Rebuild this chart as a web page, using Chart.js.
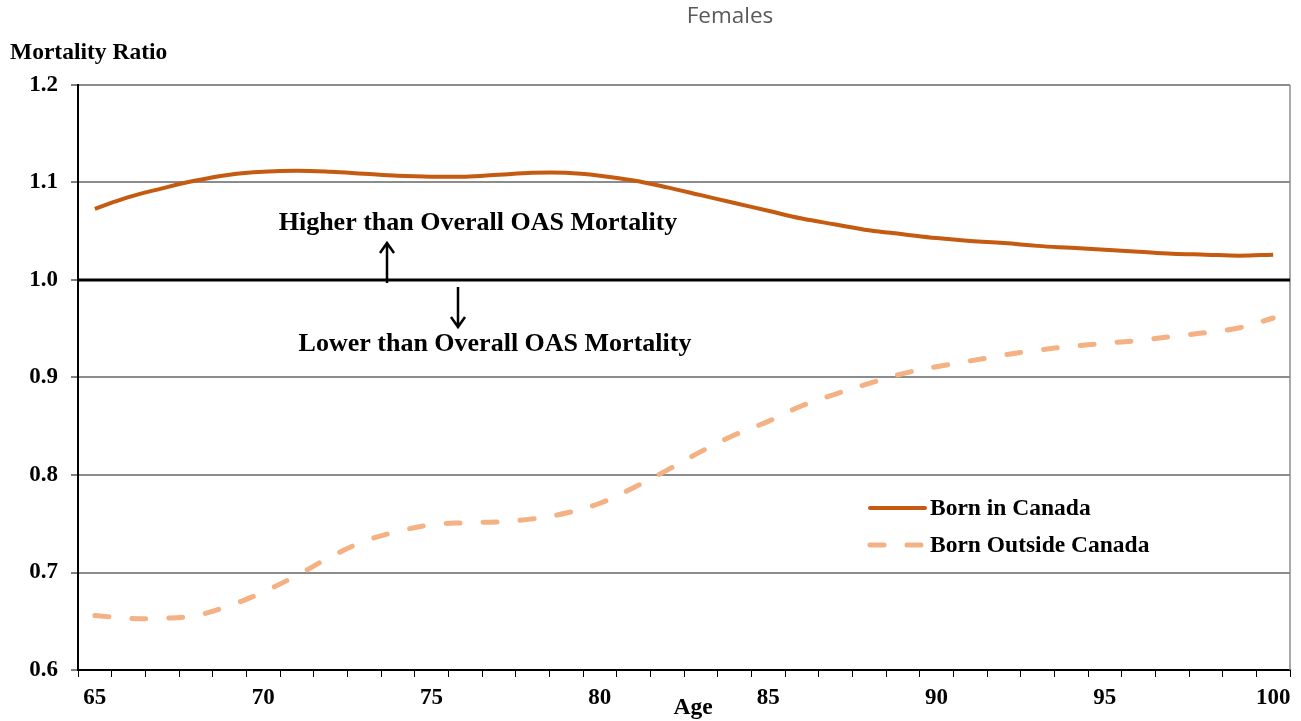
<!DOCTYPE html>
<html>
<head>
<meta charset="utf-8">
<script src="https://cdn.jsdelivr.net/npm/chart.js@4"></script>
<style>
  html, body { margin: 0; padding: 0; background: #fff; }
  #wrap { width: 1301px; height: 721px; position: relative; }
</style>
</head>
<body>
<div id="wrap"><canvas id="chart"></canvas></div>
<script>
// Ages 65..100
const ages = [65, 66, 67, 68, 69, 70, 71, 72, 73, 74, 75, 76, 77, 78, 79, 80, 81, 82,
              83, 84, 85, 86, 87, 88, 89, 90, 91, 92, 93, 94, 95, 96, 97, 98, 99, 100];

const bornInCanada = [1.073, 1.085, 1.094, 1.102, 1.108, 1.111, 1.112, 1.111, 1.109, 1.107,
                      1.106, 1.106, 1.108, 1.110, 1.110, 1.107, 1.102, 1.095, 1.087, 1.079,
                      1.071, 1.063, 1.057, 1.051, 1.047, 1.043, 1.040, 1.038, 1.035, 1.033,
                      1.031, 1.029, 1.027, 1.026, 1.025, 1.026];

const bornOutside = [0.656, 0.653, 0.653, 0.656, 0.666, 0.680, 0.697, 0.716, 0.732, 0.742,
                     0.749, 0.751, 0.752, 0.755, 0.761, 0.771, 0.787, 0.805, 0.824, 0.841,
                     0.855, 0.871, 0.883, 0.894, 0.904, 0.911, 0.917, 0.923, 0.928, 0.932,
                     0.935, 0.938, 0.942, 0.946, 0.951, 0.961];

const yTicks = [0.6, 0.7, 0.8, 0.9, 1.0, 1.1, 1.2];
const baseline = 1.0;

const serif = '"Liberation Serif", "Times New Roman", serif';

// title, axis titles, reference line, arrows, notes and legend
const extras = {
  id: 'extras',
  beforeDatasetsDraw(chart) {
    const { ctx, chartArea: a, scales: { y } } = chart;
    ctx.save();
    // right border
    ctx.strokeStyle = '#8c8c8c';
    ctx.lineWidth = 1.5;
    ctx.beginPath();
    ctx.moveTo(a.right, a.top);
    ctx.lineTo(a.right, a.bottom);
    ctx.stroke();
    // 1.0 reference line
    const yb = y.getPixelForValue(baseline);
    ctx.strokeStyle = '#000';
    ctx.lineWidth = 3;
    ctx.beginPath();
    ctx.moveTo(a.left, yb);
    ctx.lineTo(a.right, yb);
    ctx.stroke();
    ctx.restore();
  },
  afterDraw(chart) {
    const { ctx, scales: { y } } = chart;
    const yb = y.getPixelForValue(baseline);
    ctx.save();
    ctx.fillStyle = '#595959';
    ctx.font = '22.5px "Open Sans", sans-serif';
    ctx.textAlign = 'center';
    ctx.textBaseline = 'middle';
    ctx.fillText('Females', 730, 17);

    ctx.fillStyle = '#000';
    ctx.font = 'bold 23.5px ' + serif;
    ctx.textAlign = 'left';
    ctx.fillText('Mortality Ratio', 10, 53);
    ctx.textAlign = 'center';
    ctx.font = 'bold 23.5px ' + serif;
    ctx.fillText('Age', 693, 708);

    // notes
    ctx.font = 'bold 26px ' + serif;
    ctx.fillText('Higher than Overall OAS Mortality', 478, yb - 57);
    ctx.fillText('Lower than Overall OAS Mortality', 495, yb + 64);

    // arrows
    ctx.strokeStyle = '#000';
    ctx.lineWidth = 2.5;
    ctx.beginPath();
    ctx.moveTo(387, yb + 3); ctx.lineTo(387, yb - 36);
    ctx.moveTo(380, yb - 27); ctx.lineTo(387, yb - 37); ctx.lineTo(394, yb - 27);
    ctx.moveTo(458, yb + 7); ctx.lineTo(458, yb + 46);
    ctx.moveTo(451, yb + 37); ctx.lineTo(458, yb + 47); ctx.lineTo(465, yb + 37);
    ctx.stroke();

    // legend
    const items = chart.data.datasets;
    const lx = 868, ly = [508, 545];
    items.forEach((ds, i) => {
      ctx.strokeStyle = ds.borderColor;
      ctx.lineWidth = ds.borderWidth;
      ctx.lineCap = 'round';
      ctx.setLineDash(ds.borderDash || []);
      ctx.beginPath();
      ctx.moveTo(lx + 2, ly[i]);
      ctx.lineTo(lx + 57, ly[i]);
      ctx.stroke();
      ctx.setLineDash([]);
      ctx.fillStyle = '#000';
      ctx.font = 'bold 23.5px ' + serif;
      ctx.textAlign = 'left';
      ctx.fillText(ds.label, lx + 62, ly[i] + 1);
    });
    ctx.restore();
  }
};

new Chart(document.getElementById('chart'), {
  type: 'line',
  data: {
    labels: ages,
    datasets: [
      {
        label: 'Born in Canada',
        data: bornInCanada,
        borderColor: '#C55A11',
        borderWidth: 4,
        pointRadius: 0,
        tension: 0.4,
        fill: false
      },
      {
        label: 'Born Outside Canada',
        data: bornOutside,
        borderColor: '#F4B183',
        borderWidth: 5,
        borderDash: [14, 23],
        borderCapStyle: 'round',
        pointRadius: 0,
        tension: 0.4,
        fill: false
      }
    ]
  },
  options: {
    responsive: true,
    maintainAspectRatio: false,
    animation: false,
    layout: { padding: { left: 0, right: 11, top: 85, bottom: 0 } },
    plugins: {
      legend: { display: false },
      title: { display: false },
      tooltip: { enabled: false }
    },
    scales: {
      x: {
        type: 'category',
        offset: true,
        grid: {
          offset: true,
          drawOnChartArea: false,
          tickLength: 7,
          color: '#000',
          lineWidth: 1
        },
        border: { color: '#000', width: 2 },
        ticks: {
          autoSkip: false,
          maxRotation: 0,
          padding: 7,
          color: '#000',
          font: { family: serif, size: 23, weight: 'bold' },
          callback: function (v) {
            const a = ages[v];
            return a % 5 === 0 ? String(a) : '';
          }
        },
        afterFit(scale) { scale.height = 51; }
      },
      y: {
        min: 0.6,
        max: 1.2,
        afterBuildTicks(scale) { scale.ticks = yTicks.map(v => ({ value: v })); },
        grid: { color: '#8c8c8c', lineWidth: 2, tickLength: 7, tickColor: '#000', tickWidth: 1 },
        border: { color: '#000', width: 2 },
        ticks: {
          padding: 13,
          color: '#000',
          font: { family: serif, size: 23, weight: 'bold' },
          callback: v => v.toFixed(1)
        },
        afterFit(scale) { scale.width = 78; }
      }
    }
  },
  plugins: [extras]
});
</script>
</body>
</html>
